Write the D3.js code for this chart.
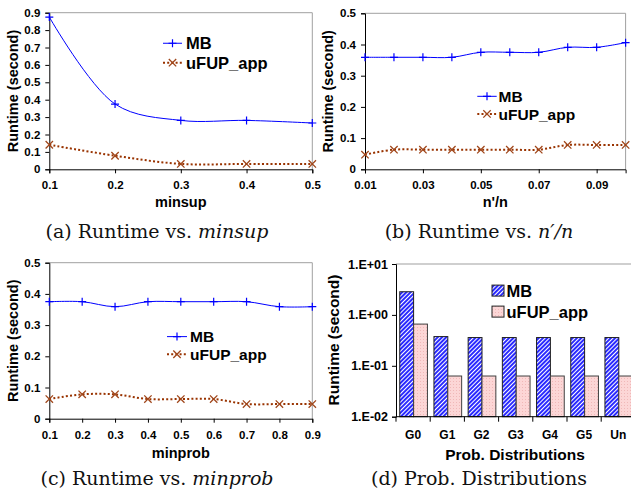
<!DOCTYPE html>
<html><head><meta charset="utf-8">
<script src="https://cdn.jsdelivr.net/npm/d3@7"></script>
<style>body{margin:0;background:#fff}svg{display:block}</style>
</head><body>
<svg id="chart" width="631" height="498"></svg>
<script>
// ---------- data ----------
const minsupX = [0.1, 0.2, 0.3, 0.4, 0.5];
const minsupMB = [0.875, 0.375, 0.281, 0.281, 0.266];
const minsupUFUP = [0.141, 0.078, 0.031, 0.031, 0.031];
const minsupTicks = ["0.1", "0.2", "0.3", "0.4", "0.5"];

const ratioX = [0.01, 0.02, 0.03, 0.04, 0.05, 0.06, 0.07, 0.08, 0.09, 0.10];
const ratioMB = [0.359, 0.359, 0.359, 0.359, 0.375, 0.375, 0.375, 0.391, 0.391, 0.406];
const ratioUFUP = [0.047, 0.063, 0.063, 0.063, 0.063, 0.063, 0.063, 0.078, 0.078, 0.078];
const ratioTicks = ["0.01", "0.03", "0.05", "0.07", "0.09"];

const minprobX = [0.1, 0.2, 0.3, 0.4, 0.5, 0.6, 0.7, 0.8, 0.9];
const minprobMB = [0.375, 0.375, 0.359, 0.375, 0.375, 0.375, 0.375, 0.359, 0.359];
const minprobUFUP = [0.063, 0.078, 0.078, 0.063, 0.063, 0.063, 0.047, 0.047, 0.047];
const minprobTicks = ["0.1", "0.2", "0.3", "0.4", "0.5", "0.6", "0.7", "0.8", "0.9"];

const distCats = ["G0", "G1", "G2", "G3", "G4", "G5", "Un"];
const distMB = [2.85, 0.375, 0.359, 0.359, 0.359, 0.359, 0.359];
const distUFUP = [0.66, 0.063, 0.063, 0.063, 0.063, 0.063, 0.063];
const logTicks = [0.01, 0.1, 1, 10];
const logTickLabels = ["1.E-02", "1.E-01", "1.E+00", "1.E+01"];

const seriesNames = ["MB", "uFUP_app"];
const yTitle = "Runtime (second)";

// ---------- styles ----------
const SANS = "Liberation Sans, Arial, sans-serif";
const SERIF = "DejaVu Serif, serif";
const BLUE = "#0000ff";
const BROWN = "#993300";

const svg = d3.select("#chart");
const defs = svg.append("defs");
const pb = defs.append("pattern").attr("id", "hatchBlue").attr("patternUnits", "userSpaceOnUse")
  .attr("width", 3).attr("height", 3).attr("patternTransform", "rotate(45)");
pb.append("rect").attr("width", 3).attr("height", 3).attr("fill", "#2a2aff");
pb.append("rect").attr("width", 1).attr("height", 3).attr("fill", "#ffffff");
const pp = defs.append("pattern").attr("id", "dotPink").attr("patternUnits", "userSpaceOnUse")
  .attr("width", 3).attr("height", 3);
pp.append("rect").attr("width", 3).attr("height", 3).attr("fill", "#fcd6d6");
pp.append("rect").attr("width", 1).attr("height", 1).attr("fill", "#f0b8b8");

function styleAxis(g, fs) {
  g.select(".domain").attr("stroke", "#000").attr("stroke-width", 1);
  g.selectAll(".tick line").attr("stroke", "#000");
  g.selectAll(".tick text").attr("font-family", SANS).attr("font-weight", "bold")
    .attr("font-size", fs || 11.5).attr("fill", "#000");
}

function linePanel(o) {
  const g = svg.append("g");
  const x = d3.scaleLinear().domain(o.xDomain).range(o.xRange);
  const y = d3.scaleLinear().domain(o.yDomain).range(o.yRange);
  g.append("path").attr("d", `M${o.xRange[0]},${o.yRange[1]}H${o.xRange[1]}V${o.yRange[0]}`)
    .attr("fill", "none").attr("stroke", "#a0a0a0").attr("stroke-width", 1);
  const yAxis = d3.axisLeft(y).tickValues(d3.range(o.yDomain[0], o.yDomain[1] + 1e-9, o.yStep))
    .tickFormat(d => d === 0 ? "0" : d3.format(".1f")(d)).tickSize(4).tickPadding(5);
  g.append("g").attr("transform", `translate(${o.xRange[0]},0)`).call(yAxis).call(styleAxis);
  const xAxis = d3.axisBottom(x).tickValues(o.tickLabels.map(Number))
    .tickFormat((d, i) => o.tickLabels[i]).tickSize(4).tickPadding(8);
  g.append("g").attr("transform", `translate(0,${o.yRange[0]})`).call(xAxis).call(styleAxis);
  g.append("text").attr("x", (o.xRange[0] + o.xRange[1]) / 2).attr("y", o.xTitleY)
    .attr("text-anchor", "middle").attr("font-family", SANS).attr("font-weight", "bold")
    .attr("font-size", 14.5).text(o.xTitle);
  g.append("text").attr("transform", `translate(${o.yTitleX},${(o.yRange[0] + o.yRange[1]) / 2}) rotate(-90)`)
    .attr("text-anchor", "middle").attr("dy", "0.36em").attr("font-family", SANS).attr("font-weight", "bold")
    .attr("font-size", 14.5).text(yTitle);
  const curve = d3.curveCatmullRom.alpha(0.5);
  const line = d3.line().x(d => x(d[0])).y(d => y(d[1])).curve(curve);
  const mb = o.xs.map((v, i) => [v, o.mb[i]]);
  const uf = o.xs.map((v, i) => [v, o.uf[i]]);
  g.append("path").attr("d", line(uf)).attr("fill", "none").attr("stroke", BROWN)
    .attr("stroke-width", 2).attr("stroke-dasharray", "2,2.2");
  g.append("path").attr("d", line(mb)).attr("fill", "none").attr("stroke", BLUE).attr("stroke-width", 1);
  g.selectAll(".mbm").data(mb).enter().append("path")
    .attr("d", d => `M${x(d[0]) - 4},${y(d[1])}h8M${x(d[0])},${y(d[1]) - 4}v8`)
    .attr("stroke", BLUE).attr("stroke-width", 1.2);
  g.selectAll(".ufm").data(uf).enter().append("path")
    .attr("d", d => `M${x(d[0]) - 3.7},${y(d[1]) - 3.7}l7.4,7.4M${x(d[0]) - 3.7},${y(d[1]) + 3.7}l7.4,-7.4`)
    .attr("stroke", "#a0461a").attr("stroke-width", 1.3);
  const L = o.legend;
  const fs = L.fs;
  const ly = [L.y0, L.y1];
  const off = fs * 0.36;
  const lx0 = L.x0, lx1 = L.x1, lm = (L.x0 + L.x1) / 2;
  g.append("path").attr("d", `M${lx0},${ly[0] - off}H${lx1}`).attr("stroke", BLUE).attr("stroke-width", 1);
  g.append("path").attr("d", `M${lm - 4},${ly[0] - off}h8M${lm},${ly[0] - off - 4}v8`).attr("stroke", BLUE).attr("stroke-width", 1.2);
  g.append("path").attr("d", `M${lx0},${ly[1] - off}H${lx1}`).attr("stroke", BROWN).attr("stroke-width", 2).attr("stroke-dasharray", "2,2.2");
  g.append("path").attr("d", `M${lm - 3.7},${ly[1] - off - 3.7}l7.4,7.4M${lm - 3.7},${ly[1] - off + 3.7}l7.4,-7.4`).attr("stroke", "#a0461a").attr("stroke-width", 1.3);
  seriesNames.forEach((n, i) => {
    g.append("text").attr("x", L.tx).attr("y", ly[i]).attr("font-family", SANS)
      .attr("font-weight", "bold").attr("font-size", fs).text(n);
  });
}

linePanel({
  xs: minsupX, mb: minsupMB, uf: minsupUFUP, tickLabels: minsupTicks,
  xDomain: [0.1, 0.5], xRange: [49.3, 312.3], yDomain: [0, 0.9], yRange: [169.3, 12.7], yStep: 0.1,
  xTitle: "minsup", xTitleY: 207, yTitleX: 12.5,
  legend: {x0: 163, x1: 182, tx: 186, y0: 49.2, y1: 68.6, fs: 16.5}
});
linePanel({
  xs: ratioX, mb: ratioMB, uf: ratioUFUP, tickLabels: ratioTicks,
  xDomain: [0.01, 0.1], xRange: [365, 625.6], yDomain: [0, 0.5], yRange: [169.3, 13.3], yStep: 0.1,
  xTitle: "n'/n", xTitleY: 207, yTitleX: 327.5,
  legend: {x0: 477.3, x1: 496.7, tx: 498.5, y0: 101.9, y1: 119.5, fs: 15.5}
});
linePanel({
  xs: minprobX, mb: minprobMB, uf: minprobUFUP, tickLabels: minprobTicks,
  xDomain: [0.1, 0.9], xRange: [49.3, 312.3], yDomain: [0, 0.5], yRange: [418.7, 262.7], yStep: 0.1,
  xTitle: "minprob", xTitleY: 458, yTitleX: 12.5,
  legend: {x0: 167, x1: 187, tx: 190, y0: 342.2, y1: 359.8, fs: 15.5}
});

// ---------- panel (d): bar chart ----------
(function () {
  const g = svg.append("g");
  const x = d3.scaleBand().domain(distCats).range([396, 396 + 34.2 * distCats.length]).paddingInner(0).paddingOuter(0);
  const y = d3.scaleLog().domain([0.01, 10]).range([416.7, 264]);
  g.append("path").attr("d", `M396,264H631`).attr("stroke", "#a0a0a0").attr("stroke-width", 1.2);
  const bw = x.bandwidth() * 0.405;
  const off = (x.bandwidth() - 2 * bw) / 2 + 0.5;
  g.selectAll(".mb").data(distCats).enter().append("rect")
    .attr("x", (d) => x(d) + off).attr("width", bw)
    .attr("y", (d, i) => y(distMB[i])).attr("height", (d, i) => y(0.01) - y(distMB[i]))
    .attr("fill", "url(#hatchBlue)").attr("stroke", "#202020").attr("stroke-width", 1);
  g.selectAll(".uf").data(distCats).enter().append("rect")
    .attr("x", (d) => x(d) + off + bw).attr("width", bw)
    .attr("y", (d, i) => y(distUFUP[i])).attr("height", (d, i) => y(0.01) - y(distUFUP[i]))
    .attr("fill", "url(#dotPink)").attr("stroke", "#404040").attr("stroke-width", 1);
  const yAxis = d3.axisLeft(y).tickValues(logTicks).tickFormat((d, i) => logTickLabels[i]).tickSize(4).tickPadding(4);
  g.append("g").attr("transform", "translate(396,0)").call(yAxis).call(styleAxis, 12.5);
  const xAxis = d3.axisBottom(x).tickSize(0).tickPadding(14);
  const xa = g.append("g").attr("transform", "translate(0,416.7)").call(xAxis).call(styleAxis, 12);
  xa.select(".domain").attr("d", `M396,0H631`);
  g.selectAll(".bt").data(distCats).enter().append("line")
    .attr("x1", d => x(d)).attr("x2", d => x(d)).attr("y1", 416.7).attr("y2", 421.7)
    .attr("stroke", "#000");
  g.append("text").attr("x", 515).attr("y", 459.6).attr("text-anchor", "middle")
    .attr("font-family", SANS).attr("font-weight", "bold").attr("font-size", 15.5).text("Prob. Distributions");
  g.append("text").attr("transform", `translate(333,340) rotate(-90)`).attr("text-anchor", "middle")
    .attr("dy", "0.36em").attr("font-family", SANS).attr("font-weight", "bold").attr("font-size", 15.5).text(yTitle);
  const legY = [296.6, 317.6];
  const fills = ["url(#hatchBlue)", "url(#dotPink)"];
  seriesNames.forEach((n, i) => {
    g.append("rect").attr("x", 492).attr("y", legY[i] - 11.5).attr("width", 12).attr("height", 11)
      .attr("fill", fills[i]).attr("stroke", "#202020").attr("stroke-width", 1);
    g.append("text").attr("x", 506.5).attr("y", legY[i]).attr("font-family", SANS)
      .attr("font-weight", "bold").attr("font-size", 16.5).text(n);
  });
})();

// ---------- captions ----------
function caption(cx, cy, parts) {
  const t = svg.append("text").attr("x", cx).attr("y", cy).attr("text-anchor", "middle")
    .attr("font-family", SERIF).attr("font-size", 19).attr("fill", "#111");
  parts.forEach(p => t.append("tspan").attr("font-style", p.it ? "italic" : "normal").text(p.s));
}
caption(157, 238, [{s: "(a) Runtime vs. "}, {s: "minsup", it: true}]);
caption(479, 238, [{s: "(b) Runtime vs. "}, {s: "n\u2032/n", it: true}]);
caption(157, 485, [{s: "(c) Runtime vs. "}, {s: "minprob", it: true}]);
caption(479, 485, [{s: "(d) Prob. Distributions"}]);
</script>
</body></html>
